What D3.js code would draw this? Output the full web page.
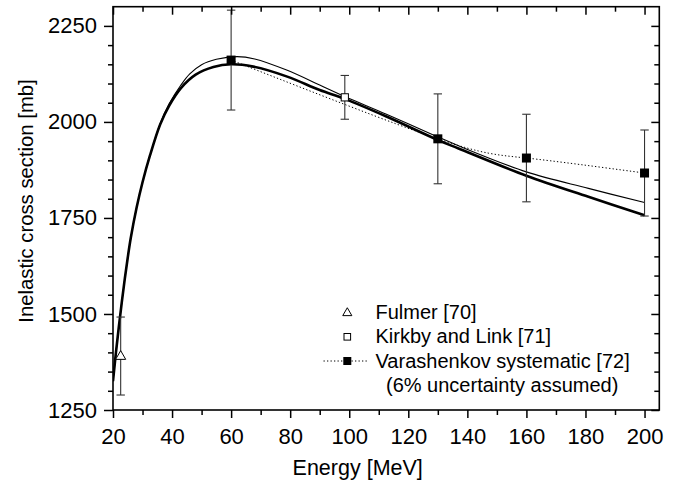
<!DOCTYPE html>
<html><head><meta charset="utf-8">
<script src="https://cdn.jsdelivr.net/npm/d3@7"></script>
<style>body{margin:0;background:#fff} svg text{font-family:"Liberation Sans",Arial,Helvetica,sans-serif;fill:#000}</style>
</head><body><svg id="c" width="679" height="483"></svg>
<script>
// ---- data ----
const xMajorTicks = [20,40,60,80,100,120,140,160,180,200];
const xMinorTicks = [30,50,70,90,110,130,150,170,190];
const yMajorTicks = [1250,1500,1750,2000,2250];
const yMinorTicks = [1300,1350,1400,1450,1550,1600,1650,1700,1800,1850,1900,1950,2050,2100,2150,2200];

const thickE     = [20,21,22,23,24,25,26,28,30,32.5,36,39,43,48,54,60,67.5,79,90,98.5,112.6,130,137,160,181,200];
const thickSigma = [1325,1400,1468,1532,1592,1647,1697,1777,1843,1912,1994,2042,2088,2123,2143,2150,2144,2118,2083,2060,2014,1953,1931,1860,1805,1757];

const thinE      = [20,21,22,23,24,25,26,28,30,32.5,36,39,43,46,50,55,62,68,78.8,90,98.5,112.6,130,137,160,181,200];
const thinSigma  = [1325,1400,1468,1532,1592,1647,1697,1777,1843,1912,1996,2047,2096,2125,2149,2163,2170,2164,2135,2096,2066,2020,1961,1938,1870,1827,1790];

const fulmerE = [22.6], fulmerSigma = [1392], fulmerLow = [1289], fulmerHigh = [1492];
const kirkbyE = [98.5], kirkbySigma = [2064], kirkbyErr = [57];
const varE = [60,130,160,200], varSigma = [2161,1956,1906,1867], varErr = [130,117,114,112];

const legendLabels = ["Fulmer [70]","Kirkby and Link [71]","Varashenkov systematic [72]","(6% uncertainty assumed)"];
const xTitle = "Energy [MeV]", yTitle = "Inelastic cross section [mb]";

// ---- chart ----
const svg = d3.select("#c");
const L=113, R=659.3, T=6.7, B=410;
const x = d3.scaleLinear().domain([20,205]).range([L,R]);
const y = d3.scaleLinear().domain([1250,2300]).range([B,T]);

svg.append("clipPath").attr("id","clip").append("rect")
  .attr("x",L).attr("y",T).attr("width",R-L).attr("height",B-T);

const line = d3.line().x(d=>x(d[0])).y(d=>y(d[1])).curve(d3.curveCatmullRom.alpha(0.5));
const plot = svg.append("g").attr("clip-path","url(#clip)");

// dotted Varashenkov
plot.append("path").datum(varE.map((e,i)=>[e,varSigma[i]]))
  .attr("d", d3.line().x(d=>x(d[0])).y(d=>y(d[1])).curve(d3.curveNatural))
  .attr("fill","none").attr("stroke","#000").attr("stroke-width",1).attr("stroke-dasharray","1.3,2.2");
// thin
plot.append("path").datum(thinE.map((e,i)=>[e,thinSigma[i]])).attr("d",line)
  .attr("fill","none").attr("stroke","#000").attr("stroke-width",1.1);
// thick
plot.append("path").datum(thickE.map((e,i)=>[e,thickSigma[i]])).attr("d",line)
  .attr("fill","none").attr("stroke","#000").attr("stroke-width",2.6);

// error bars
function errBar(e,lo,hi){
  const g = svg.append("g").attr("stroke","#333").attr("stroke-width",1.1);
  g.append("line").attr("x1",x(e)).attr("x2",x(e)).attr("y1",y(lo)).attr("y2",y(hi));
  g.append("line").attr("x1",x(e)-4.2).attr("x2",x(e)+4.2).attr("y1",y(lo)).attr("y2",y(lo));
  g.append("line").attr("x1",x(e)-4.2).attr("x2",x(e)+4.2).attr("y1",y(hi)).attr("y2",y(hi));
}
fulmerE.forEach((e,i)=>errBar(e,fulmerLow[i],fulmerHigh[i]));
kirkbyE.forEach((e,i)=>errBar(e,kirkbySigma[i]-kirkbyErr[i],kirkbySigma[i]+kirkbyErr[i]));
varE.forEach((e,i)=>errBar(e,varSigma[i]-varErr[i],varSigma[i]+varErr[i]));

// markers
const tri = d3.symbol().type(d3.symbolTriangle).size(44);
fulmerE.forEach((e,i)=>svg.append("path").attr("d",tri())
  .attr("transform",`translate(${x(e)},${y(fulmerSigma[i])+1})`)
  .attr("fill","#fff").attr("stroke","#000").attr("stroke-width",1));
kirkbyE.forEach((e,i)=>svg.append("rect").attr("x",x(e)-3.6).attr("y",y(kirkbySigma[i])-3.6)
  .attr("width",7.2).attr("height",7.2).attr("fill","#fff").attr("stroke","#000").attr("stroke-width",1));
varE.forEach((e,i)=>svg.append("rect").attr("x",x(e)-4.5).attr("y",y(varSigma[i])-4.5)
  .attr("width",9).attr("height",9).attr("fill","#000"));

// axes
function styleAxis(g){
  g.select(".domain").remove();
  g.selectAll("line").attr("stroke","#000").attr("stroke-width",1.5);
  g.selectAll("text").style("font-size","22px");
}
svg.append("g").attr("transform",`translate(0,${B})`)
  .call(d3.axisBottom(x).tickValues(xMajorTicks).tickSize(8).tickPadding(10).tickFormat(d3.format("d"))).call(styleAxis);
svg.append("g").attr("transform",`translate(0,${B})`)
  .call(d3.axisBottom(x).tickValues(xMinorTicks).tickSize(5).tickFormat("")).call(styleAxis);
svg.append("g").attr("transform",`translate(0,${T})`)
  .call(d3.axisTop(x).tickValues(xMajorTicks).tickSize(-8).tickFormat("")).call(styleAxis);
svg.append("g").attr("transform",`translate(0,${T})`)
  .call(d3.axisTop(x).tickValues(xMinorTicks).tickSize(-5).tickFormat("")).call(styleAxis);
svg.append("g").attr("transform",`translate(${L},0)`)
  .call(d3.axisLeft(y).tickValues(yMajorTicks).tickSize(9).tickPadding(7).tickFormat(d3.format("d"))).call(styleAxis);
svg.append("g").attr("transform",`translate(${L},0)`)
  .call(d3.axisLeft(y).tickValues(yMinorTicks).tickSize(5).tickFormat("")).call(styleAxis);
svg.append("g").attr("transform",`translate(${R},0)`)
  .call(d3.axisRight(y).tickValues(yMajorTicks).tickSize(-8).tickFormat("")).call(styleAxis);
svg.append("g").attr("transform",`translate(${R},0)`)
  .call(d3.axisRight(y).tickValues(yMinorTicks).tickSize(-5).tickFormat("")).call(styleAxis);

svg.append("rect").attr("x",L).attr("y",T).attr("width",R-L).attr("height",B-T)
  .attr("fill","none").attr("stroke","#000").attr("stroke-width",1.6);

// titles
svg.append("text").attr("x",357.7).attr("y",475).attr("text-anchor","middle")
  .style("font-size","21.5px").text(xTitle);
svg.append("text").attr("transform","translate(33,201) rotate(-90)").attr("text-anchor","middle")
  .style("font-size","20.3px").text(yTitle);

// legend
const lg = svg.append("g");
lg.append("path").attr("d",d3.symbol().type(d3.symbolTriangle).size(36)())
  .attr("transform","translate(347.3,313)").attr("fill","#fff").attr("stroke","#000").attr("stroke-width",1);
lg.append("rect").attr("x",344).attr("y",333.5).attr("width",6.6).attr("height",6.6)
  .attr("fill","#fff").attr("stroke","#000").attr("stroke-width",1);
lg.append("line").attr("x1",323.5).attr("x2",368.5).attr("y1",361).attr("y2",361)
  .attr("stroke","#000").attr("stroke-width",1).attr("stroke-dasharray","1.3,2.2");
lg.append("rect").attr("x",343.3).attr("y",357).attr("width",8).attr("height",8).attr("fill","#000");
const lx=[375.5,375.5,375.5,386], ly=[318.5,343,367.5,392];
legendLabels.forEach((t,i)=>lg.append("text").attr("x",lx[i]).attr("y",ly[i]).style("font-size","20px").text(t));
</script></body></html>
